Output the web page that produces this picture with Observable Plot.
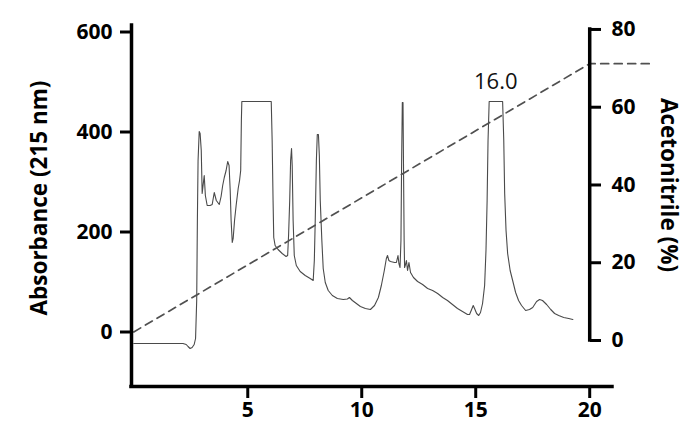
<!DOCTYPE html>
<html>
<head>
<meta charset="utf-8">
<script src="https://cdn.jsdelivr.net/npm/d3@7"></script>
<script src="https://cdn.jsdelivr.net/npm/@observablehq/plot@0.6"></script>
<style>
  html, body { margin: 0; padding: 0; background: #fff; }
</style>
</head>
<body>
<div id="chart"></div>
<script>
// Retention time (min) and absorbance at 215 nm
const time = [0, 2.16, 2.30, 2.38, 2.47, 2.56, 2.65, 2.71, 2.76, 2.79, 2.82, 2.87, 2.91, 2.96, 3.00, 3.05, 3.09, 3.14, 3.22, 3.35, 3.44, 3.53, 3.62, 3.75, 3.83, 3.90, 3.97, 4.05, 4.12, 4.18, 4.23, 4.27, 4.32, 4.36, 4.42, 4.49, 4.58, 4.64, 4.69, 4.72, 4.74, 6.03, 6.07, 6.11, 6.14, 6.20, 6.33, 6.51, 6.68, 6.75, 6.79, 6.84, 6.88, 6.92, 6.95, 6.99, 7.04, 7.13, 7.30, 7.52, 7.74, 7.87, 7.92, 7.96, 8.01, 8.05, 8.10, 8.14, 8.18, 8.25, 8.31, 8.40, 8.53, 8.71, 8.93, 9.19, 9.37, 9.46, 9.59, 9.94, 10.16, 10.38, 10.56, 10.73, 10.86, 10.99, 11.08, 11.13, 11.19, 11.26, 11.44, 11.52, 11.59, 11.63, 11.68, 11.72, 11.75, 11.78, 11.81, 11.83, 11.86, 11.88, 11.92, 11.96, 12.01, 12.07, 12.14, 12.27, 12.45, 12.67, 12.89, 13.11, 13.33, 13.55, 13.76, 13.98, 14.20, 14.42, 14.64, 14.73, 14.82, 14.89, 14.95, 15.04, 15.13, 15.21, 15.30, 15.39, 15.45, 15.50, 15.54, 15.59, 16.18, 16.23, 16.27, 16.33, 16.40, 16.51, 16.62, 16.75, 16.88, 17.01, 17.19, 17.36, 17.50, 17.67, 17.80, 17.93, 18.11, 18.29, 18.46, 18.64, 18.86, 19.08, 19.26];
const absorbance = [-23, -23, -25, -29, -33, -31, -25, -13, 63, 223, 343, 401, 397, 363, 277, 297, 313, 273, 253, 253, 255, 279, 263, 255, 271, 293, 309, 323, 341, 333, 283, 223, 179, 187, 223, 253, 287, 303, 323, 423, 461, 461, 383, 263, 189, 173, 165, 157, 151, 153, 193, 263, 343, 367, 333, 223, 153, 133, 121, 113, 107, 103, 143, 223, 343, 395, 395, 353, 263, 183, 127, 99, 83, 73, 67, 65, 66, 69, 63, 51, 47, 45, 53, 69, 93, 123, 147, 153, 143, 141, 139, 139, 153, 137, 129, 183, 343, 459, 459, 343, 183, 129, 135, 143, 123, 139, 119, 109, 101, 95, 87, 83, 77, 69, 63, 55, 47, 41, 35, 35, 45, 53, 47, 37, 33, 39, 57, 93, 163, 263, 383, 461, 461, 383, 277, 203, 157, 123, 103, 79, 63, 53, 43, 45, 49, 61, 65, 63, 55, 45, 37, 33, 29, 27, 25];

// Acetonitrile gradient (%)
const gradientTime = [0, 20, 22.7];
const gradientPct = [2.2, 71.2, 71.2];

// Tick labels
const timeTicks = [5, 10, 15, 20];
const absTicks = [0, 200, 400, 600];
const acnTicks = [0, 20, 40, 60, 80];

// Peak annotation
const peakLabel = "16.0";
const peakTime = 15.88;
const peakTop = 461;

// Right axis (acetonitrile %) expressed in absorbance units of the shared y scale
const acnToAbs = p => -17 + 7.776 * p;
const xDomain = [-0.1, 21];
const yDomain = [-109, 613];
const rightAxisTime = 20;

const trace = time.map((t, i) => ({t, a: absorbance[i]}));
const gradient = gradientTime.map((t, i) => ({t, a: acnToAbs(gradientPct[i])}));

const font = "'Open Sans', sans-serif";

const chart = Plot.plot({
  width: 700,
  height: 440,
  marginLeft: 131,
  marginRight: 88,
  marginTop: 25,
  marginBottom: 54,
  style: {fontFamily: font, background: "#fff", color: "#000"},
  x: {domain: xDomain},
  y: {domain: yDomain},
  marks: [
    // chromatogram
    Plot.line(trace, {x: "t", y: "a", stroke: "#4a4a4a", strokeWidth: 1.1}),
    // gradient
    Plot.line(gradient, {x: "t", y: "a", stroke: "#505050", strokeWidth: 1.7, strokeDasharray: "8,5.5"}),
    // peak label
    Plot.text([peakLabel], {x: peakTime, y: peakTop, text: d => d, dy: -20, fontSize: 22, fill: "#111", fontWeight: 400}),
    // axis lines
    Plot.ruleX([xDomain[0]], {y1: yDomain[0], y2: yDomain[1], strokeWidth: 3.5, stroke: "#000", strokeLinecap: "square"}),
    Plot.ruleY([yDomain[0]], {x1: xDomain[0], x2: xDomain[1], strokeWidth: 3.5, stroke: "#000", strokeLinecap: "square"}),
    Plot.ruleX([rightAxisTime], {y1: acnToAbs(acnTicks[0]), y2: acnToAbs(acnTicks[acnTicks.length - 1]), strokeWidth: 3.5, stroke: "#000", strokeLinecap: "square"}),
    // axes
    Plot.axisX({ticks: timeTicks, tickSize: 12, tickPadding: 4, strokeWidth: 3, fontSize: 21, fontWeight: "bold", label: null}),
    Plot.axisY({anchor: "left", ticks: absTicks, tickSize: 11, tickPadding: 8, strokeWidth: 3, fontSize: 21, fontWeight: "bold", label: null}),
    Plot.axisY({anchor: "right", ticks: acnTicks.map(acnToAbs), tickFormat: (d, i) => String(acnTicks[i]), tickSize: 11, tickPadding: 11, strokeWidth: 3, fontSize: 21, fontWeight: "bold", label: null, dx: -23}),
    // axis titles
    Plot.text(["Absorbance (215 nm)"], {frameAnchor: "left", textAnchor: "middle", rotate: -90, dx: -92, dy: -8, fontSize: 22.5, fontWeight: "bold", fill: "#000"}),
    Plot.text(["Acetonitrile (%)"], {frameAnchor: "right", textAnchor: "middle", rotate: 90, dx: 56, dy: -21, fontSize: 22.5, fontWeight: "bold", fill: "#000"})
  ]
});

document.getElementById("chart").appendChild(chart);
</script>
</body>
</html>
